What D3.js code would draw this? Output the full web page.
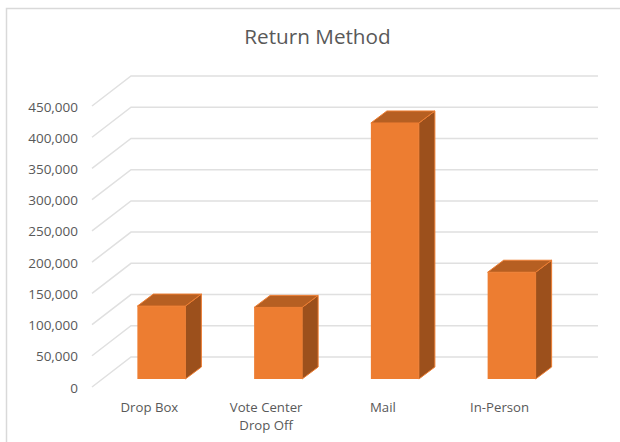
<!DOCTYPE html>
<html>
<head>
<meta charset="utf-8">
<script src="https://cdn.jsdelivr.net/npm/d3@7"></script>
<style>
  html, body { margin: 0; padding: 0; background: #fff; }
  svg { display: block; }
  text { font-family: "Open Sans", sans-serif; fill: #595959; }
</style>
</head>
<body>
<div id="chart"></div>
<script>
"use strict";

var title = "Return Method";
var categories = ["Drop Box", "Vote Center|Drop Off", "Mail", "In-Person"];
var values = [116800, 114700, 410000, 171000];
var tickValues = [0, 50000, 100000, 150000, 200000, 250000, 300000, 350000, 400000, 450000];

var width = 620, height = 442;

// front edge of the floor, the walls sit depth px behind it
var plotLeft = 92, plotRight = 559, plotBottom = 387, plotTop = 106;
var depthX = 39, depthY = -30;

var x = d3.scaleBand().domain(categories).range([plotLeft, plotRight]);
var y = d3.scaleLinear().domain([0, 450000]).range([plotBottom, plotTop]);
var fmt = d3.format(",");

var svg = d3
  .select("#chart")
  .append("svg")
  .attr("width", width)
  .attr("height", height);

svg
  .append("rect")
  .attr("width", width)
  .attr("height", height)
  .attr("fill", "#fff");

// chart frame
svg
  .append("path")
  .attr("d", "M6.5,442V8.5H620")
  .attr("fill", "none")
  .attr("stroke", "#d9d9d9")
  .attr("stroke-width", 1.5);

svg
  .append("text")
  .attr("x", 317.5)
  .attr("y", 44)
  .attr("text-anchor", "middle")
  .attr("font-size", 20.7)
  .text(title);

// gridlines: side wall diagonal then back wall
svg
  .append("g")
  .selectAll("path")
  .data(tickValues)
  .enter()
  .append("path")
  .attr("fill", "none")
  .attr("stroke", "#e0e0e0")
  .attr("stroke-width", 1.5)
  .attr("d", function(d) {
    return d3.line()([
      [plotLeft, y(d)],
      [plotLeft + depthX, y(d) + depthY],
      [plotRight + depthX, y(d) + depthY]
    ]);
  });

svg
  .append("g")
  .selectAll("text")
  .data(tickValues)
  .enter()
  .append("text")
  .attr("x", 78)
  .attr("y", function(d) {
    return y(d) + 5.5;
  })
  .attr("text-anchor", "end")
  .attr("font-size", 13.5)
  .text(function(d) {
    return fmt(d);
  });

// bars sit in the middle of the floor depth
var barWidth = 48;
var barDX = 16, barDY = -12;
var offX = (depthX - barDX) / 2 - 0.5, offY = (depthY - barDY) / 2 + 1;

var bars = svg
  .append("g")
  .selectAll("g")
  .data(categories)
  .enter()
  .append("g")
  .attr("transform", function(d) {
    var cx = x(d) + x.bandwidth() / 2 + offX;
    return "translate(" + (cx - barWidth / 2) + "," + offY + ")";
  });

function val(i) {
  return values[i];
}

// side face
bars
  .append("path")
  .attr("fill", "#9c501c")
  .attr("stroke", "#ed7d31")
  .attr("stroke-width", 1)
  .attr("d", function(d, i) {
    var t = y(val(i));
    return d3.line()([
      [barWidth, t],
      [barWidth + barDX, t + barDY],
      [barWidth + barDX, plotBottom + barDY],
      [barWidth, plotBottom]
    ]) + "Z";
  });

// top face
bars
  .append("path")
  .attr("fill", "#b65f22")
  .attr("stroke", "#ed7d31")
  .attr("stroke-width", 1)
  .attr("d", function(d, i) {
    var t = y(val(i));
    return d3.line()([
      [0, t],
      [barDX, t + barDY],
      [barWidth + barDX, t + barDY],
      [barWidth, t]
    ]) + "Z";
  });

// front face
bars
  .append("rect")
  .attr("x", 0)
  .attr("y", function(d, i) {
    return y(val(i));
  })
  .attr("width", barWidth)
  .attr("height", function(d, i) {
    return plotBottom - y(val(i));
  })
  .attr("fill", "#ed7d31");

// category labels, | marks a line break
var labels = svg
  .append("g")
  .selectAll("text")
  .data(categories)
  .enter()
  .append("text")
  .attr("text-anchor", "middle")
  .attr("font-size", 13.2)
  .attr("y", 412);

labels
  .selectAll("tspan")
  .data(function(d) {
    return d.split("|").map(function(t) {
      return { text: t, cat: d };
    });
  })
  .enter()
  .append("tspan")
  .attr("x", function(d) {
    return x(d.cat) + x.bandwidth() / 2 - 1;
  })
  .attr("dy", function(d, i) {
    return i ? 18 : 0;
  })
  .text(function(d) {
    return d.text;
  });
</script>
</body>
</html>
